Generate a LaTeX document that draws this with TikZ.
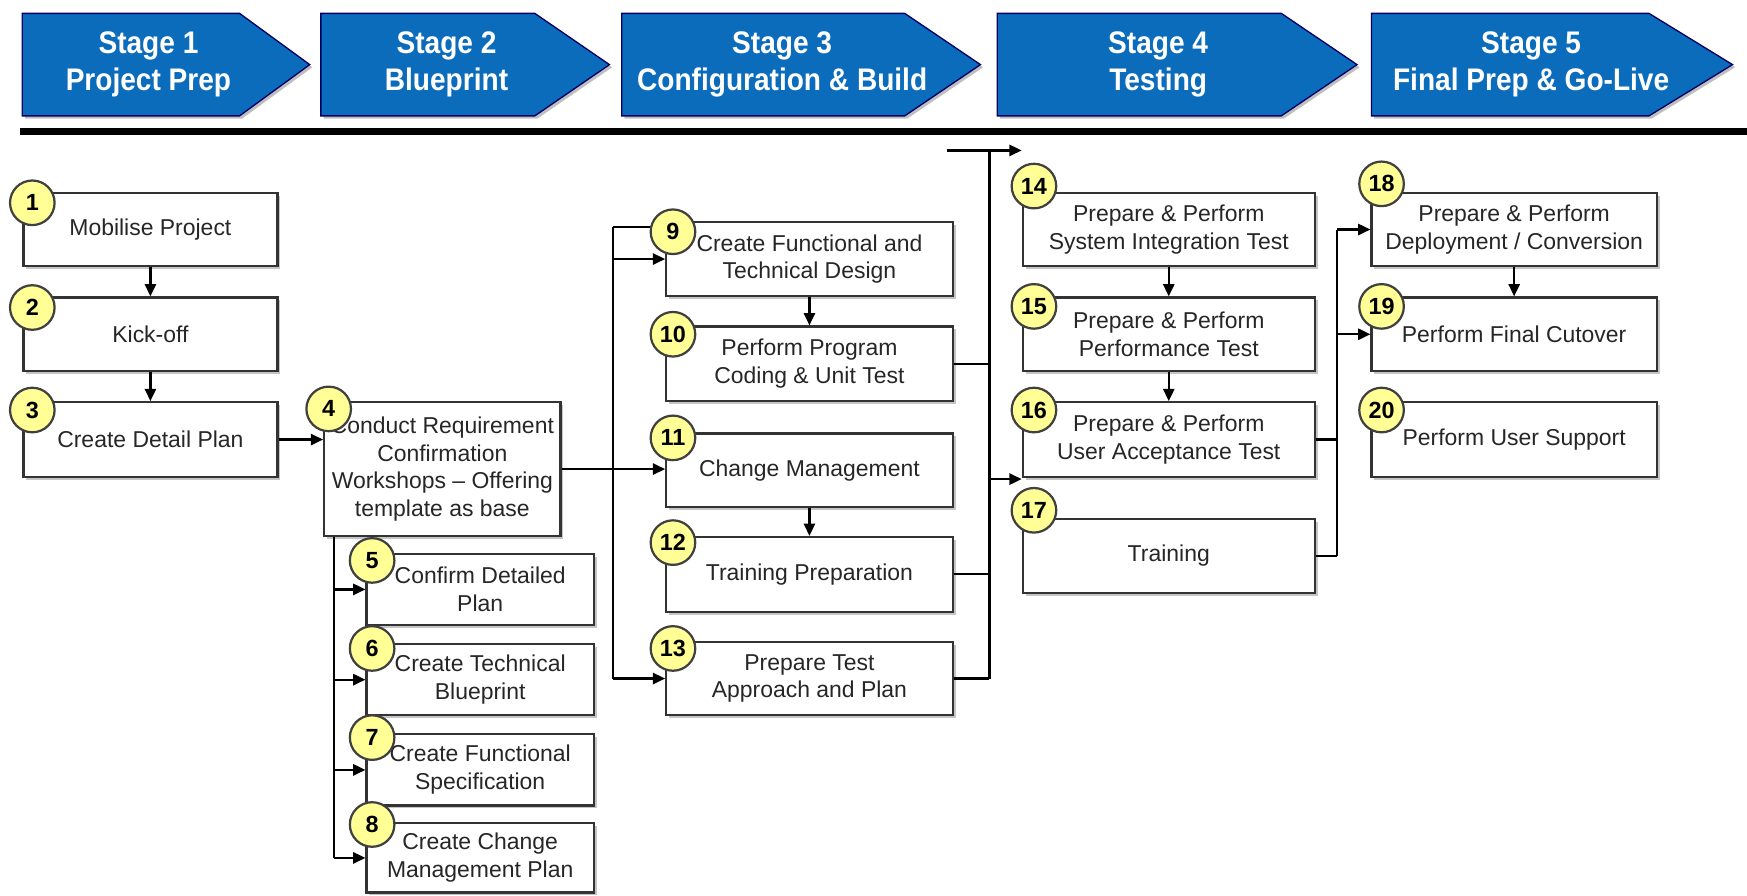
\documentclass[tikz,border=0pt]{standalone}
\usepackage{fontspec}
\setmainfont{Liberation Sans}
\newfontfamily\stagefont[FakeStretch=0.9]{Liberation Sans}
\usetikzlibrary{arrows.meta,shadows}
\definecolor{stageblue}{RGB}{12,108,188}
\definecolor{numyellow}{RGB}{255,255,150}
\colorlet{boxline}{black!80}

\begin{document}
\begin{tikzpicture}[x=0.5pt,y=-0.5pt,
    >={Triangle[length=5.5pt,width=5pt]},
    task/.style={draw=boxline,line width=1pt,fill=white,anchor=north west,align=center,
      inner sep=2pt,text=black!85,font=\fontsize{10.3}{12.5}\selectfont,
      drop shadow={shadow xshift=1.3pt,shadow yshift=-1.3pt,fill=black!45}},
    num/.style={circle,draw=black!75,line width=1pt,fill=numyellow,minimum size=20pt,
      inner sep=0pt,font=\fontsize{10.5}{12}\selectfont\bfseries},
    stage/.style={fill=stageblue,draw=black!60!blue,line width=0.6pt,
      drop shadow={shadow xshift=1.2pt,shadow yshift=-1.2pt,fill=black!50}},
    link/.style={line width=1pt}]
  \useasboundingbox (0,0) rectangle (1568,804);

  \foreach \l/\b/\t/\name [count=\i] in {20/215/278/{Stage 1\\Project Prep},
      288/480/547/{Stage 2\\Blueprint}, 558/812/880/{Stage 3\\Configuration \& Build},
      895/1150/1218/{Stage 4\\Testing}, 1231/1480/1555/{Stage 5\\Final Prep \& Go-Live}} {
    \draw[stage] (\l,12) -- (\b,12) -- (\t,58) -- (\b,104) -- (\l,104) -- cycle;
    \node[align=center,text=white,font=\stagefont\bfseries\fontsize{14}{16.5}\selectfont]
      (stage\i) at ({(\l+(\b+\t)/2)/2},58) {\name};
  }
  \draw[line width=2.8pt] (18,118) -- (1568,118);

  \foreach \n/\x/\y/\w/\h/\txt in {
      1/20/172/228/66/{Mobilise Project},
      2/20/266/228/66/{Kick-off},
      3/20/360/228/67/{Create Detail Plan},
      4/290/360/212/120/{Conduct Requirement\\Confirmation\\Workshops -- Offering\\template as base},
      5/328/496/204/64/{Confirm Detailed\\Plan},
      6/328/577/204/64/{Create Technical\\Blueprint},
      7/328/658/204/64/{Create Functional\\Specification},
      8/328/738/204/62/{Create Change\\Management Plan},
      9/597/198/257/67/{Create Functional and\\Technical Design},
      10/597/292/257/67/{Perform Program\\Coding \& Unit Test},
      11/597/388/257/66/{Change Management},
      12/597/481/257/67/{Training Preparation},
      13/597/575/257/66/{Prepare Test\\Approach and Plan},
      14/917/172/262/66/{Prepare \& Perform\\System Integration Test},
      15/917/266/262/66/{Prepare \& Perform\\Performance Test},
      16/917/360/262/67/{Prepare \& Perform\\User Acceptance Test},
      17/917/465/262/66/{Training},
      18/1230/172/256/66/{Prepare \& Perform\\Deployment / Conversion},
      19/1230/266/256/66/{Perform Final Cutover},
      20/1230/360/256/67/{Perform User Support}} {
    \node[task,minimum width=\w*0.5pt,minimum height=\h*0.5pt] (t\n) at (\x,\y) {\txt};
  }

  \draw[->,link] (t1) -- (t2);
  \draw[->,link] (t2) -- (t3);
  \draw[->,link] (t3) -- (t4.west |- t3);

  \coordinate (d4) at (300,766);
  \draw[link] (t4.south -| d4) -- (d4 |- t8.west);
  \foreach \n in {5,...,8} {
    \draw[->,link] (d4 |- t\n.west) -- (t\n.west);
  }

  \coordinate (d9) at (550,204);
  \draw[->,link] (t4.east) -- (t11.west |- t4.east);
  \draw[link] (d9) -- (d9 |- t13.west);
  \draw[->,link] (d9) -- (t9.west |- d9);
  \draw[->,link] (d9 |- t9.west) -- (t9.west);
  \draw[->,link] (d9 |- t13.west) -- (t13.west);
  \draw[->,link] (t9) -- (t10);
  \draw[->,link] (t11) -- (t12);

  \coordinate (m0) at (850,135);
  \coordinate (m14) at (888,135);
  \coordinate (in14) at (917,135);
  \coordinate (in17) at (917,430);
  \draw[->,link] (m0) -- (in14);
  \foreach \n in {10,12,13} {
    \draw[link] (t\n.east) -- (t\n.east -| m14);
  }
  \draw[link] (m14) -- (m14 |- t13.east);
  \draw[->,link] (m14 |- in17) -- (in17);
  \draw[->,link] (t14) -- (t15);
  \draw[->,link] (t15) -- (t16);

  \coordinate (m18) at (1200,204);
  \foreach \n in {16,17} {
    \draw[link] (t\n.east) -- (t\n.east -| m18);
  }
  \draw[link] (m18 |- t18.west) -- (m18 |- t17.east);
  \draw[->,link] (m18 |- t18.west) -- (t18.west);
  \draw[->,link] (m18 |- t19.west) -- (t19.west);
  \draw[->,link] (t18) -- (t19);

  \foreach \n/\x/\y in {1/29/182, 2/29/276, 3/29/368, 4/295/367, 5/334/503, 6/334/582,
      7/334/662, 8/334/740, 9/604/208, 10/604/300, 11/604/393, 12/604/487, 13/604/582,
      14/928/167, 15/928/275, 16/928/368, 17/928/458, 18/1240/165, 19/1240/275, 20/1240/368} {
    \node[num] (n\n) at (\x,\y) {\n};
  }
\end{tikzpicture}
\end{document}
